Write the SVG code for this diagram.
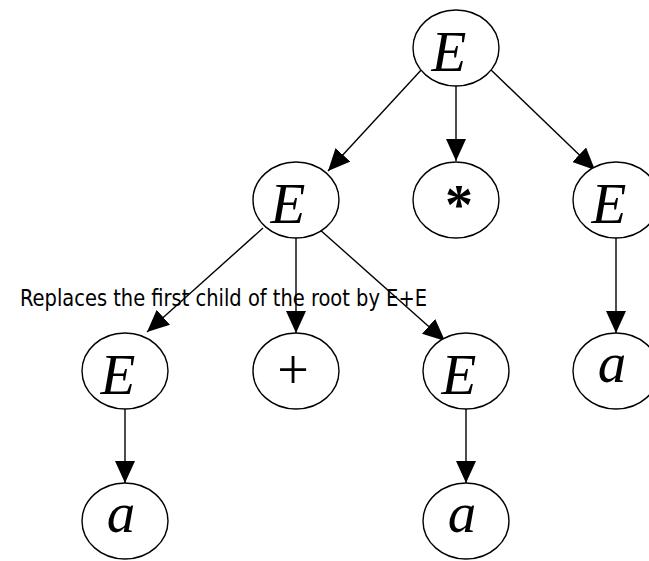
<svg xmlns="http://www.w3.org/2000/svg" width="649" height="561" viewBox="0 0 649 561">
  <style>
    .node ellipse { fill: #ffffff; stroke: #000000; stroke-width: 1.4; }
    .sym { font-family: "Liberation Serif", "Times New Roman", serif; font-size: 57px; font-style: italic; fill: #000000; text-anchor: middle; }
    .op { font-family: "Liberation Serif", "Times New Roman", serif; font-size: 56px; fill: #000000; text-anchor: middle; }
    .edge { stroke: #000000; stroke-width: 1.4; fill: none; marker-end: url(#arrow); }
    .note { font-family: "DejaVu Sans Condensed", "DejaVu Sans", sans-serif; font-size: 23px; fill: #000000; }
  </style>
  <defs>
    <marker id="arrow" viewBox="0 0 22 20" refX="22" refY="10" markerWidth="22" markerHeight="20" markerUnits="userSpaceOnUse" orient="auto">
      <path d="M0,0 L22,10 L0,20 Z" fill="#000000"/>
    </marker>
  </defs>
  <rect width="649" height="561" fill="#ffffff"/>

  <!-- parent-to-child edges -->
  <g id="edges">
    <line class="edge" x1="423" y1="68" x2="328" y2="171"/>
    <line class="edge" x1="456" y1="86" x2="456" y2="161"/>
    <line class="edge" x1="489" y1="68" x2="595" y2="170"/>
    <line class="edge" x1="263" y1="228" x2="147" y2="332"/>
    <line class="edge" x1="296" y1="238" x2="296" y2="333"/>
    <line class="edge" x1="318" y1="228" x2="445" y2="341"/>
    <line class="edge" x1="616" y1="238" x2="616" y2="333"/>
    <line class="edge" x1="125" y1="409" x2="125" y2="483"/>
    <line class="edge" x1="466" y1="409" x2="466" y2="483"/>
  </g>

  <g id="root" class="node">
    <ellipse cx="456" cy="48" rx="43" ry="38"/>
    <text class="sym" x="449" y="71">E</text>
  </g>
  <g id="e-left" class="node">
    <ellipse cx="296" cy="200" rx="43" ry="38"/>
    <text class="sym" x="288" y="223">E</text>
  </g>
  <g id="star" class="node">
    <ellipse cx="456" cy="200" rx="43" ry="38"/>
    <text class="op" x="459" y="224" font-weight="bold">*</text>
  </g>
  <g id="e-right" class="node">
    <ellipse cx="616" cy="200" rx="43" ry="38"/>
    <text class="sym" x="609" y="223">E</text>
  </g>
  <g id="e-ll" class="node">
    <ellipse cx="125" cy="371" rx="43" ry="38"/>
    <text class="sym" x="118" y="394">E</text>
  </g>
  <g id="plus" class="node">
    <ellipse cx="296" cy="371" rx="43" ry="38"/>
    <text class="op" x="293" y="389">+</text>
  </g>
  <g id="e-lr" class="node">
    <ellipse cx="466" cy="371" rx="43" ry="38"/>
    <text class="sym" x="459" y="394">E</text>
  </g>
  <g id="a-right" class="node">
    <ellipse cx="616" cy="371" rx="43" ry="38"/>
    <text class="sym" x="612" y="382">a</text>
  </g>
  <g id="a-ll" class="node">
    <ellipse cx="125" cy="521" rx="43" ry="38"/>
    <text class="sym" x="121" y="532">a</text>
  </g>
  <g id="a-lr" class="node">
    <ellipse cx="466" cy="521" rx="43" ry="38"/>
    <text class="sym" x="462" y="532">a</text>
  </g>

  <text class="note" x="20" y="306" textLength="407" lengthAdjust="spacingAndGlyphs">Replaces the first child of the root by E+E</text>
</svg>
